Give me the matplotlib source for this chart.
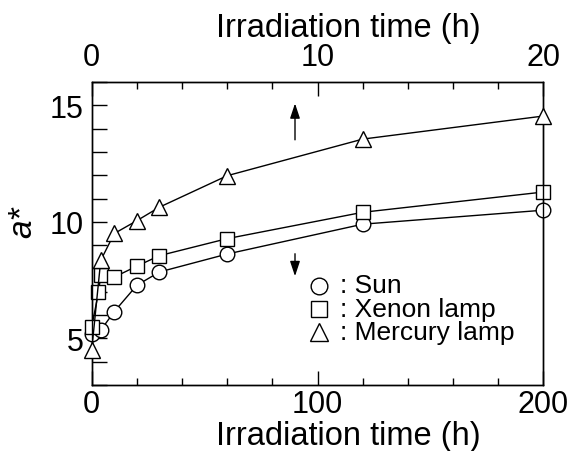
import matplotlib
matplotlib.use("Agg")
import matplotlib.pyplot as plt
from matplotlib.ticker import MultipleLocator

plt.rcParams['font.family'] = ['Liberation Sans', 'DejaVu Sans']

# Data (bottom axis 0-200 h: Sun, Xenon lamp; top axis 0-20 h: Mercury lamp)
sun_t = [0, 4, 10, 20, 30, 60, 120, 200]
sun_a = [5.2, 5.35, 6.15, 7.28, 7.85, 8.62, 9.9, 10.5]

xenon_t = [0, 3, 4, 10, 20, 30, 60, 120, 200]
xenon_a = [5.5, 6.97, 7.7, 7.63, 8.1, 8.55, 9.28, 10.41, 11.28]

mercury_t = [0, 0.4, 1, 2, 3, 6, 12, 20]
mercury_a = [4.5, 8.35, 9.5, 10.05, 10.63, 11.98, 13.55, 14.54]

legend_labels = [': Sun', ': Xenon lamp', ': Mercury lamp']
bottom_ticks = [0, 100, 200]
top_ticks = [0, 10, 20]
y_ticks = [5, 10, 15]

fig = plt.figure(figsize=(5.71, 4.52), dpi=100)
ax = fig.add_axes([0.1606, 0.146, 0.7912, 0.6704])
ax2 = ax.twiny()

mk = dict(color='black', linewidth=1.0, markerfacecolor='white',
          markeredgecolor='black', markeredgewidth=1.0, markersize=10.5, clip_on=False)
ax.plot(sun_t, sun_a, marker='o', zorder=3, **mk)
ax.plot(xenon_t, xenon_a, marker='s', zorder=4, **mk)
ax2.plot(mercury_t, mercury_a, marker='^', zorder=3, **dict(mk, markersize=11.5))

ax.set_xlim(0, 200)
ax2.set_xlim(0, 20)
ax.set_ylim(3, 16)

for a in (ax, ax2):
    for s in a.spines.values():
        s.set_linewidth(1.0)

ax.xaxis.set_minor_locator(MultipleLocator(20))
ax.set_xticks(bottom_ticks)
ax.set_xticklabels([str(v) for v in bottom_ticks])
ax.yaxis.set_minor_locator(MultipleLocator(1))
ax.set_yticks(y_ticks)
ax.set_yticklabels([str(v) for v in y_ticks])
ax2.xaxis.set_minor_locator(MultipleLocator(2))
ax2.set_xticks(top_ticks)
ax2.set_xticklabels([str(v) for v in top_ticks])

ax.tick_params(axis='x', which='major', direction='in', length=10, width=1.0,
               labelsize=22, pad=3, top=False)
ax.tick_params(axis='x', which='minor', direction='in', length=5, width=1.0, top=False)
ax.tick_params(axis='y', which='both', direction='in', length=11, width=1.0,
               labelsize=22, pad=6, right=False)
ax2.tick_params(axis='x', which='major', direction='in', length=10, width=1.0,
                labelsize=22, pad=7)
ax2.tick_params(axis='x', which='minor', direction='in', length=5, width=1.0)

ax.set_xlabel('Irradiation time (h)', fontsize=23.5)
ax2.set_xlabel('Irradiation time (h)', fontsize=23.5)
ax.xaxis.set_label_coords(0.567, -0.116)
ax2.xaxis.set_label_coords(0.567, 1.152)
ax.set_ylabel('a*', fontsize=24, style='italic')
ax.yaxis.set_label_coords(-0.118, 0.54)

# direction arrows
arrow_kw = dict(arrowstyle='-|>,head_length=0.9,head_width=0.3', color='black', lw=1.0)
ax.annotate('', xy=(90, 15.2), xytext=(90, 13.4), arrowprops=arrow_kw)
ax.annotate('', xy=(90, 7.55), xytext=(90, 8.75), arrowprops=arrow_kw)

# legend drawn as markers + one multi-line text inside the axes
legend_y = [7.26, 6.27, 5.27]
for m, yy in zip(['o', 's', '^'], legend_y):
    ax.plot([100.5], [yy], marker=m, linestyle='none', markerfacecolor='white',
            markeredgecolor='black', markeredgewidth=1.0,
            markersize=12 if m != '^' else 13)
ax.text(110, legend_y[1], '\n'.join(legend_labels), fontsize=19, va='center',
        ha='left', linespacing=0.98)

fig.savefig('out.png', dpi=100)
